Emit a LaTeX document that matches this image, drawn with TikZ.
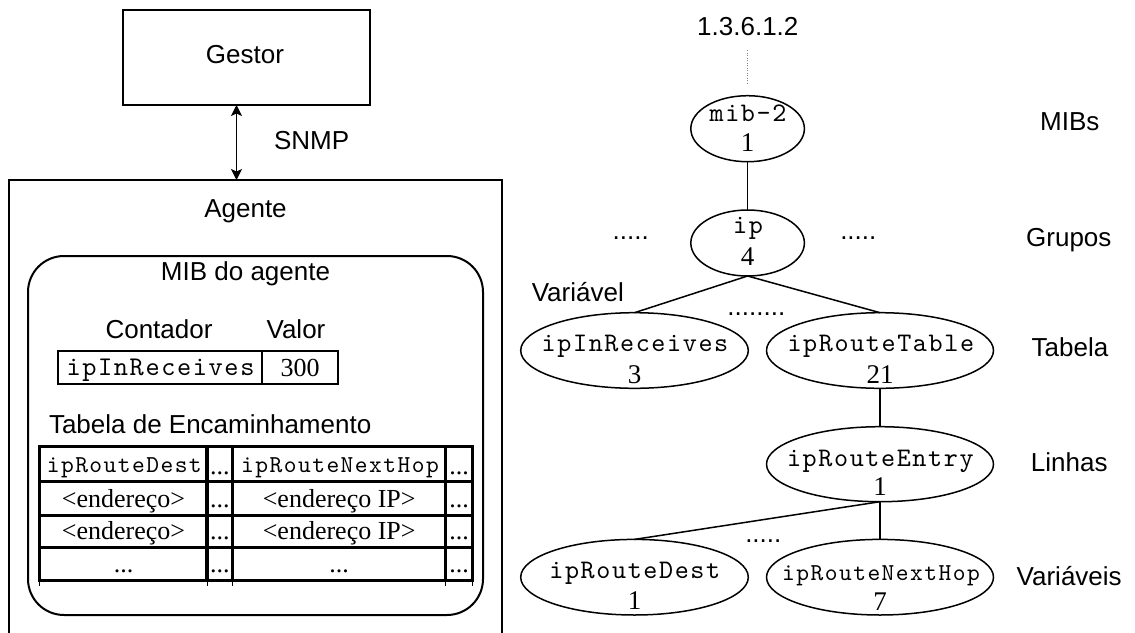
\documentclass[tikz,border=0pt]{standalone}
\usepackage{fontspec}
\setmainfont{Liberation Serif}
\setsansfont{Liberation Sans}
\newfontfamily\codefont[LetterSpace=6]{lmmono10-regular.otf}
\usetikzlibrary{shapes.geometric,arrows.meta,calc}

\begin{document}
\begin{tikzpicture}[x=1pt,y=-1pt,
  every node/.style={inner sep=0pt, outer sep=0pt},
  sanslbl/.style={font=\fontsize{26}{30}\selectfont\sffamily, anchor=base},
  monolbl/.style={font=\fontsize{27}{30}\selectfont\codefont, anchor=base},
  hdrlbl/.style={font=\fontsize{24.3}{28}\selectfont\codefont, anchor=base},
  serlbl/.style={font=\fontsize{26}{30}\selectfont\rmfamily, anchor=base},
  ellname/.style={font=\fontsize{26.8}{30}\selectfont\codefont, anchor=base},
  ellnum/.style={font=\fontsize{27}{30}\selectfont\rmfamily, anchor=base},
  ell/.style={draw, ellipse, line width=1.5pt, minimum width=227pt, minimum height=75.6pt},
  treeline/.style={line width=1.5pt},
  gridline/.style={line width=3.5pt},
  tip/.tip={Stealth[length=11pt,width=11pt,inset=2.5pt]},
]
\useasboundingbox (0,0) rectangle (1135,632);
\clip (0,0) rectangle (1135,632);
\fill[white] (0,0) rectangle (1135,632);

% ---------- manager / agent ----------
\node[draw, line width=2pt, minimum width=247pt, minimum height=95pt] (gestor) at (246.3,57.5) {};
\node[sanslbl] (gestortxt) at (245,63) {Gestor};

% agent box continues below the lower edge
\node[draw, line width=1.8pt, minimum width=493pt, minimum height=500pt, anchor=north west] (agente) at (9,180) {};
\coordinate (snmpx) at (236.5,0);
\draw[line width=1.5pt, tip-tip] (gestor.south -| snmpx) -- (agente.north -| snmpx);
\node[sanslbl, anchor=base west] (snmp) at (274,149) {SNMP};
\node[sanslbl] (agtxt) at (245.5,217) {Agente};

% ---------- agent MIB ----------
\node[draw, line width=2pt, rounded corners=36pt, minimum width=455pt, minimum height=359pt, anchor=north west] (mib) at (28,256) {};
\node[sanslbl] (mibtxt) at (245.5,280) {MIB do agente};
\node[sanslbl] (contador) at (159,338) {Contador};
\node[sanslbl] (valor) at (296,338) {Valor};

% counter table
\draw[line width=2pt] (57.7,351) rectangle (337.7,383.7) (262.3,351) -- (262.3,383.7);
\node[monolbl] (cnt) at (160.5,375) {ipInReceives};
\node[serlbl] (cntval) at (300,376) {300};

\node[sanslbl, anchor=base west] (tabtxt) at (49,433) {Tabela de Encaminhamento};

% routing table grid
\draw[gridline] (39.3,446.7) rectangle (472.7,580.5);
\foreach \x in {207,232.7,445.3} \draw[gridline] (\x,446.7) -- (\x,580.5);
\foreach \y in {481.7,515.7,547.7} \draw[gridline] (39.3,\y) -- (472.7,\y);
\foreach \x in {39.3,207,232.7,445.3,472.7} \draw[line width=0.8pt] (\x,582) -- (\x,585.5);

\node[hdrlbl] (h1) at (124.3,472) {ipRouteDest};
\node[serlbl] (h2) at (219.9,474) {...};
\node[hdrlbl] (h3) at (340,472) {ipRouteNextHop};
\node[serlbl] (h4) at (459,474) {...};

\node[serlbl] (r1a) at (123.5,507) {<endereço>};
\node[serlbl] (r1b) at (219.9,507) {...};
\node[serlbl] (r1c) at (339.2,507) {<endereço IP>};
\node[serlbl] (r1d) at (459,507) {...};

\node[serlbl] (r2a) at (123.5,539) {<endereço>};
\node[serlbl] (r2b) at (219.9,539) {...};
\node[serlbl] (r2c) at (339.2,539) {<endereço IP>};
\node[serlbl] (r2d) at (459,539) {...};

\node[serlbl] (r3a) at (123.5,572.5) {...};
\node[serlbl] (r3b) at (219.9,572.5) {...};
\node[serlbl] (r3c) at (339.2,572.5) {...};
\node[serlbl] (r3d) at (459,572.5) {...};

% ---------- MIB tree ----------
\node[sanslbl] (oid) at (747.8,35) {1.3.6.1.2};
\coordinate (oidfoot) at (747.6,50);

\node[ell, minimum width=113.6pt, minimum height=66pt] (mib2) at (747.6,128.7) {};
\node[ellname] (mib2n) at (748,121.7) {mib-2};
\node[ellnum] (mib2v) at (747.6,151.7) {1};
\draw[line width=1pt, gray, dash pattern=on 1pt off 1.5pt] (oidfoot) -- ($(mib2.north)+(0,-13)$);

\node[ell, minimum width=113.6pt, minimum height=66pt] (ip) at (747.6,243) {};
\node[ellname] (ipn) at (748,233) {ip};
\node[ellnum] (ipv) at (747.6,265.7) {4};
\draw[treeline] (mib2.south) -- (ip.north);

\node[sanslbl] (dl) at (630.8,239.5) {.....};
\node[sanslbl] (dr) at (858.3,239.5) {.....};

\node[ell, minimum width=227.6pt] (inrec) at (634.5,350.5) {};
\node[ellname] (inrecn) at (635,351.7) {ipInReceives};
\node[ellnum] (inrecv) at (634.5,383.3) {3};

\node[ell] (rtable) at (880,350.5) {};
\node[ellname] (rtablen) at (880.8,351.7) {ipRouteTable};
\node[ellnum] (rtablev) at (880,383) {21};

\draw[treeline] (ip.south) -- (inrec.north);
\draw[treeline] (ip.south) -- (rtable.north);
\node[sanslbl] (var1) at (577.8,301) {Variável};
\node[sanslbl] (dm) at (756.3,315.5) {........};

\node[ell, minimum height=75pt] (rentry) at (880,464.2) {};
\node[ellname] (rentryn) at (880.3,466.7) {ipRouteEntry};
\node[ellnum] (rentryv) at (880,495.5) {1};
\draw[treeline] (rtable.south) -- (rentry.north);

\node[ell, minimum width=227.6pt] (rdest) at (634.5,577.2) {};
\node[ellname] (rdestn) at (634.8,578.3) {ipRouteDest};
\node[ellnum] (rdestv) at (634.5,609.3) {1};

\node[ell] (rnext) at (880,577.2) {};
\node[ellname, font=\fontsize{24.3}{28}\selectfont\codefont] (rnextn) at (881,580) {ipRouteNextHop};
\node[ellnum] (rnextv) at (880,610) {7};

\draw[treeline] (rentry.south) -- (rdest.north);
\draw[treeline] (rentry.south) -- (rnext.north);
\node[sanslbl] (db) at (763.3,542) {.....};

% level names
\node[sanslbl] (mibs) at (1069.8,130.7) {MIBs};
\node[sanslbl] (grupos) at (1068.8,246.7) {Grupos};
\node[sanslbl] (tabela) at (1070,356.7) {Tabela};
\node[sanslbl] (linhas) at (1069.2,471.7) {Linhas};
\node[sanslbl] (variaveis) at (1069.2,585) {Variáveis};
\end{tikzpicture}
\end{document}
